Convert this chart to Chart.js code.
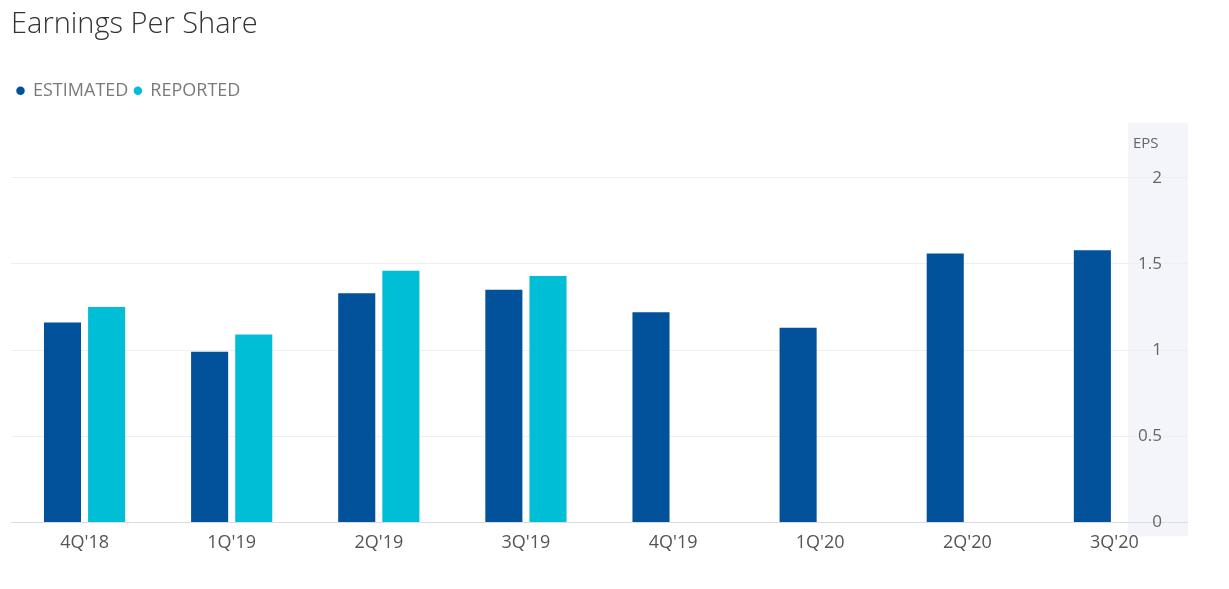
<!DOCTYPE html>
<html>
<head>
<meta charset="utf-8">
<script src="https://cdn.jsdelivr.net/npm/chart.js@4"></script>
<style>
  html, body { margin: 0; padding: 0; background: #ffffff; }
  #wrap { position: relative; width: 1229px; height: 589px; }
</style>
</head>
<body>
<div id="wrap"><canvas id="c" width="1229" height="589"></canvas></div>
<script>
const chartTitle = 'Earnings Per Share';
const axisTitle = 'EPS';
const categories = ["4Q'18", "1Q'19", "2Q'19", "3Q'19", "4Q'19", "1Q'20", "2Q'20", "3Q'20"];
const estimated = [1.16, 0.99, 1.33, 1.35, 1.22, 1.13, 1.56, 1.58];
const reported = [1.25, 1.09, 1.46, 1.43, null, null, null, null];
const seriesNames = ['ESTIMATED', 'REPORTED'];
const yTickLabels = ['0', '0.5', '1', '1.5', '2'];
const yMin = 0, yMax = 2, yStep = 0.5;

const FONT = "'Open Sans', 'Noto Sans', sans-serif";

const bandPlugin = {
  id: 'band',
  beforeDraw(chart) {
    const { ctx, chartArea } = chart;
    ctx.save();
    ctx.fillStyle = '#f4f5fb';
    ctx.fillRect(chartArea.right - 60, chartArea.top - 55, 60, chartArea.bottom - chartArea.top + 69);
    ctx.restore();
  },
  afterDraw(chart) {
    const { ctx, chartArea } = chart;
    ctx.save();
    ctx.fillStyle = '#666666';
    ctx.font = "15px " + FONT;
    ctx.textAlign = 'left';
    ctx.textBaseline = 'middle';
    ctx.fillText(axisTitle, chartArea.right - 55, chartArea.top - 34);
    ctx.restore();
  }
};

new Chart(document.getElementById('c'), {
  type: 'bar',
  data: {
    labels: categories,
    datasets: [
      { label: seriesNames[0], data: estimated, backgroundColor: '#02529b', borderWidth: 0 },
      { label: seriesNames[1], data: reported, backgroundColor: '#00bed5', borderWidth: 0 }
    ]
  },
  options: {
    responsive: false,
    animation: false,
    devicePixelRatio: 1,
    categoryPercentage: 0.6,
    barPercentage: 0.84,
    layout: { padding: { left: 11, right: 41, top: 0, bottom: 33 } },
    plugins: {
      title: {
        display: true, text: chartTitle, align: 'start', color: '#333333',
        font: { family: FONT, size: 29, weight: '300' },
        padding: { top: 7, bottom: 34 }
      },
      legend: {
        display: true, position: 'top', align: 'start',
        labels: {
          usePointStyle: true, pointStyle: 'circle', boxWidth: 7, boxHeight: 6,
          padding: 6, color: '#7a7a7a',
          font: { family: FONT, size: 18 }
        }
      },
      tooltip: { enabled: false }
    },
    scales: {
      x: {
        position: 'bottom',
        grid: { display: false },
        border: { display: false },
        ticks: { color: '#555555', font: { family: FONT, size: 18 }, padding: 2, maxRotation: 0 }
      },
      xTop: {
        type: 'category',
        position: 'top',
        grid: { display: false },
        border: { display: false },
        ticks: { display: false },
        afterFit(scale) { scale.height = 68; }
      },
      y: {
        position: 'right',
        min: yMin, max: yMax,
        ticks: {
          stepSize: yStep, mirror: true, padding: -26, color: '#666666',
          font: { family: FONT, size: 17 },
          callback: (v, i) => yTickLabels[i]
        },
        grid: {
          drawTicks: false,
          color: (c) => (c.tick && c.tick.value === 0) ? '#d9dbe6' : '#eeeff3'
        },
        border: { display: false },
        afterFit(scale) { scale.width = 0; }
      }
    }
  },
  plugins: [bandPlugin]
});
</script>
</body>
</html>
